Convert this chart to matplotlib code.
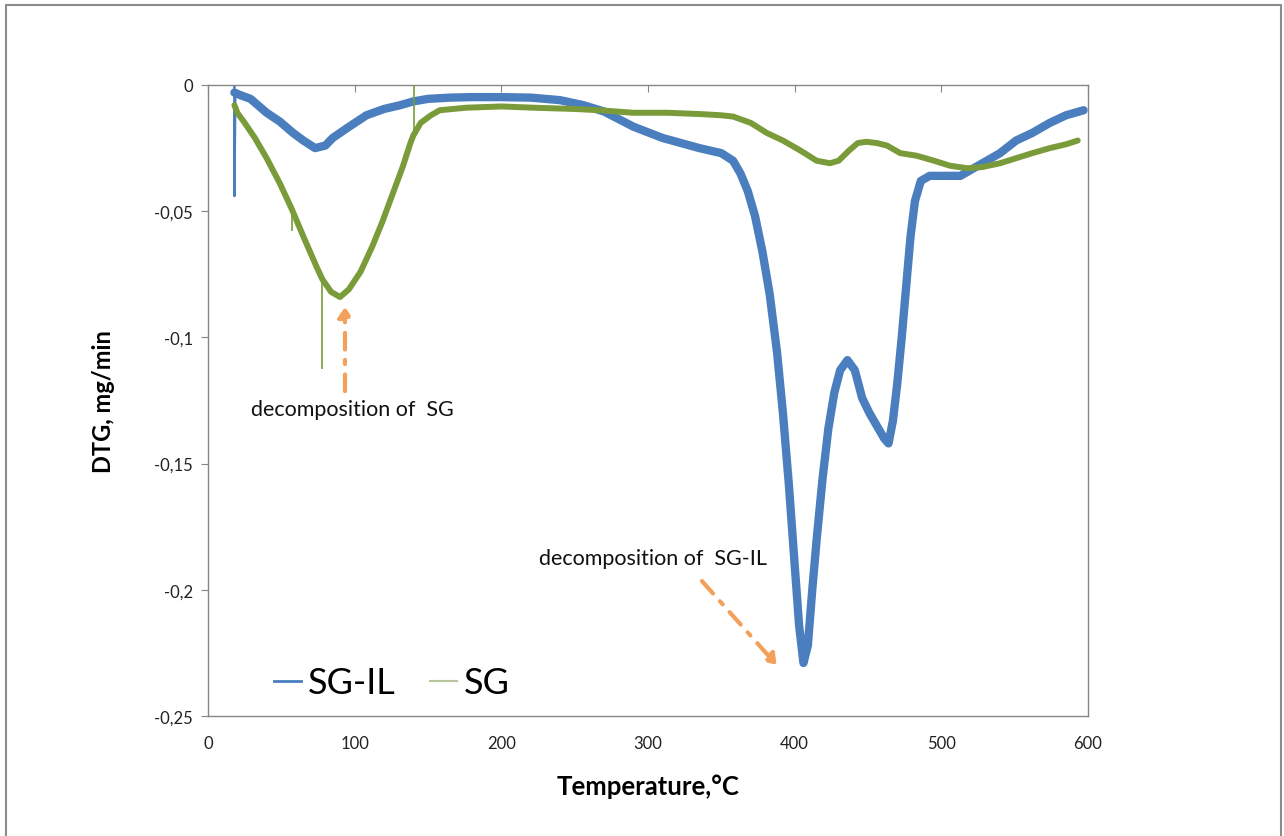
import matplotlib
matplotlib.use("Agg")
import matplotlib.pyplot as plt
from matplotlib.patches import Rectangle
from matplotlib.lines import Line2D

# ---- data ----
sgil_T = [18, 22, 29, 40, 49, 58, 65, 73, 80, 85, 95, 108, 120, 131, 140, 150,
          165, 180, 199, 220, 240, 256, 270, 290, 310, 335, 350, 358, 363, 368, 373, 378,
          383, 388, 392, 396, 400, 403, 406, 409, 412, 415, 419, 423, 427, 431, 436, 441,
          446, 451, 456, 461, 464, 467, 470, 473, 476, 479, 482, 486, 492, 500, 513, 528,
          540, 551, 562, 574, 585, 597]
sgil_v = [-0.003, -0.004, -0.0055, -0.011, -0.0145, -0.019, -0.022, -0.025,
          -0.024, -0.021, -0.017, -0.012, -0.0095, -0.008, -0.0065, -0.0055, -0.005, -0.0048,
          -0.0048, -0.005, -0.006, -0.008, -0.0105, -0.0165, -0.021, -0.025, -0.027, -0.030,
          -0.035, -0.042, -0.052, -0.066, -0.083, -0.106, -0.130, -0.158, -0.190, -0.214,
          -0.229, -0.222, -0.200, -0.180, -0.156, -0.136, -0.122, -0.113, -0.109, -0.113,
          -0.124, -0.130, -0.135, -0.140, -0.142, -0.133, -0.118, -0.100, -0.080, -0.060,
          -0.046, -0.038, -0.036, -0.036, -0.036, -0.031, -0.027, -0.022, -0.019, -0.015,
          -0.012, -0.010]
# single-sample spikes of SG-IL
sgil_spike_T = [18, 18, 18.6]
sgil_spike_v = [0.0, -0.044, -0.003]

sg_T = [18, 20, 25, 32, 40, 49, 57, 65, 74, 78, 84, 90, 96, 104,
        112, 119, 126, 133, 138, 140, 145, 152, 158, 176, 200, 222, 250, 267,
        290, 313, 335, 350, 358, 370, 381, 392, 404, 415, 424, 430, 437, 443, 449, 456, 463,
        472, 483, 495, 506, 518, 528, 540, 551, 562, 574, 585, 593]
sg_v = [-0.008, -0.011, -0.015, -0.021, -0.029, -0.039, -0.049, -0.060,
        -0.072, -0.077, -0.082, -0.084, -0.081, -0.074, -0.064, -0.054,
        -0.043, -0.032, -0.023, -0.020, -0.015, -0.012, -0.010, -0.009, -0.0085,
        -0.009, -0.0095, -0.010, -0.011, -0.011, -0.0115, -0.012, -0.0125, -0.015, -0.019,
        -0.022, -0.026, -0.030, -0.031, -0.030, -0.026, -0.023, -0.0225, -0.023, -0.024,
        -0.027, -0.028, -0.030, -0.032, -0.033, -0.0325, -0.031, -0.029, -0.027, -0.025,
        -0.0235, -0.022]
# single-sample spikes of SG (base value, spike value pairs)
sg_spike_T = [57.3, 77.8, 140.3]
sg_spike_base = [-0.050, -0.078, -0.019]
sg_spike_v = [-0.058, -0.1125, 0.0]

x_ticks = [0, 100, 200, 300, 400, 500, 600]
y_ticks = [0, -0.05, -0.1, -0.15, -0.2, -0.25]
y_tick_labels = ["0", "-0,05", "-0,1", "-0,15", "-0,2", "-0,25"]

BLUE = "#4A7EBF"
GREEN = "#7A9B3A"
ORANGE = "#F4A05A"
FONT = "Lato"

fig = plt.figure(figsize=(12.84, 8.37), dpi=100)
fig.patches.append(Rectangle((6 / 1284, -0.02), (1281 - 6) / 1284, 1 - 6 / 837 + 0.02,
                             transform=fig.transFigure, fill=False,
                             edgecolor="#8c8c8c", linewidth=1.5))

ax = fig.add_axes([208 / 1284, 1 - 717 / 837, 880 / 1284, 631 / 837])

ax.plot(sgil_T, sgil_v, color=BLUE, lw=6.0, solid_joinstyle="round",
        solid_capstyle="round", zorder=2)
ax.plot(sgil_spike_T, sgil_spike_v, color=BLUE, lw=1.8, zorder=2)
ax.plot(sg_T, sg_v, color=GREEN, lw=4.3, solid_joinstyle="round",
        solid_capstyle="round", zorder=3)
ax.vlines(sg_spike_T, sg_spike_base, sg_spike_v, color=GREEN, lw=1.2, zorder=3)

ax.set_xlim(0, 600)
ax.set_ylim(-0.25, 0)
ax.set_xticks(x_ticks)
ax.set_yticks(y_ticks)
ax.set_yticklabels(y_tick_labels)
for lab in ax.get_xticklabels() + ax.get_yticklabels():
    lab.set_fontfamily(FONT)
    lab.set_fontsize(12)
    lab.set_color("#222222")

ax.tick_params(axis="x", bottom=False, top=True, direction="in", length=5,
               color="#868686", labelbottom=True, pad=14)
ax.tick_params(axis="y", left=True, direction="out", length=5, color="#868686", pad=6)
for s in ax.spines.values():
    s.set_color("#868686")
    s.set_linewidth(1.0)

ax.set_xlabel("Temperature,°C", fontfamily=FONT, fontsize=18.5, fontweight="bold",
              labelpad=16)
ax.set_ylabel("DTG, mg/min", fontfamily=FONT, fontsize=17, fontweight="bold",
              labelpad=28)

# annotations
ax.annotate("", xy=(93.4, -0.0868), xytext=(93.4, -0.1224),
            arrowprops=dict(arrowstyle="-|>,head_length=0.6,head_width=0.4",
                            color=ORANGE, lw=3, linestyle=(0, (4, 2.5, 1, 2.5))))
ax.text(29, -0.1285, "decomposition of  SG", fontfamily=FONT, fontsize=15.5,
        va="center", ha="left", color="#111111")
ax.annotate("", xy=(389, -0.2306), xytext=(335.5, -0.1957),
            arrowprops=dict(arrowstyle="-|>,head_length=0.6,head_width=0.4",
                            color=ORANGE, lw=3, linestyle=(0, (4, 2.5, 1, 2.5))))
ax.text(226, -0.1875, "decomposition of  SG-IL", fontfamily=FONT, fontsize=15.5,
        va="center", ha="left", color="#111111")

h1 = Line2D([], [], color=BLUE, lw=2)
h2 = Line2D([], [], color="#b9c59a", lw=1.5)
leg = ax.legend([h1, h2], ["SG-IL", "SG"], ncol=2, frameon=False,
                loc="lower left", bbox_to_anchor=(0.0375, -0.025),
                prop={"family": FONT, "size": 26}, handlelength=0.75,
                handletextpad=0.2, columnspacing=0.95)

fig.savefig("out.png", dpi=100)
